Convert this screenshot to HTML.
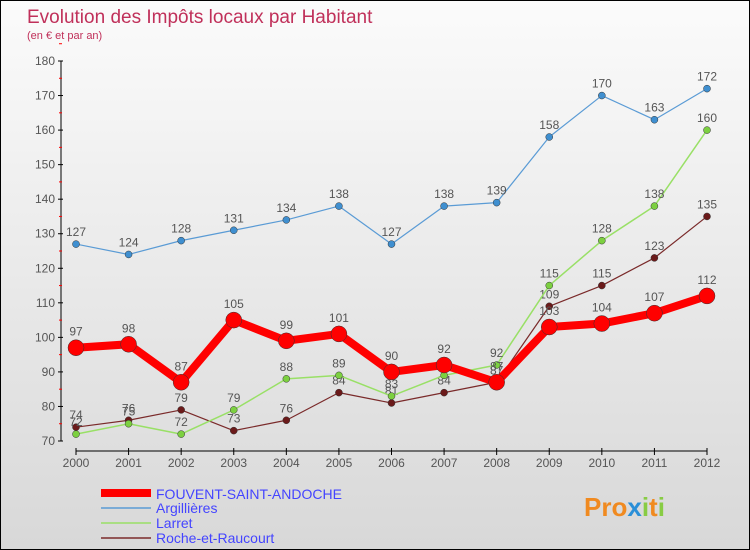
<!DOCTYPE html>
<html><head><meta charset="utf-8"><style>
body{margin:0}
#c{width:748px;height:548px;border:1px solid #000;background:linear-gradient(#fbfbfb,#d8d8d8);position:relative;font-family:"Liberation Sans",sans-serif;overflow:hidden}
svg text{font-family:"Liberation Sans",sans-serif}
</style></head><body>
<div id="c">
<svg id="s" width="748" height="548">
<text x="26" y="22" font-size="19" fill="#c0305a">Evolution des Impôts locaux par Habitant</text>
<text x="26" y="38" font-size="11" fill="#c0305a">(en € et par an)</text>
<g id="ax"></g><g id="ser"></g>
<g>
<line x1="100" y1="492" x2="150" y2="492" stroke="#f00" stroke-width="8"/>
<text x="155" y="498" font-size="14" fill="#44f">FOUVENT-SAINT-ANDOCHE</text>
<line x1="100" y1="507" x2="150" y2="507" stroke="#5a9bd5" stroke-width="1.5"/>
<text x="155" y="512" font-size="14" fill="#44f">Argillières</text>
<line x1="100" y1="522" x2="150" y2="522" stroke="#99e066" stroke-width="1.5"/>
<text x="155" y="527" font-size="14" fill="#44f">Larret</text>
<line x1="100" y1="537" x2="150" y2="537" stroke="#7a2a2a" stroke-width="1.5"/>
<text x="155" y="542" font-size="14" fill="#44f">Roche-et-Raucourt</text>
</g>
<text x="583" y="515" font-size="26" font-weight="bold" fill="#f08a20">Pro<tspan fill="#2a8fd8">x</tspan><tspan fill="#8c4">i</tspan>t<tspan fill="#8c4">i</tspan></text>
</svg></div>
<script>
const years=["2000","2001","2002","2003","2004","2005","2006","2007","2008","2009","2010","2011","2012"];
const yTicks=[70,80,90,100,110,120,130,140,150,160,170,180];
const fouvent=[97,98,87,105,99,101,90,92,87,103,104,107,112];
const argillieres=[127,124,128,131,134,138,127,138,139,158,170,163,172];
const larret=[72,75,72,79,88,89,83,89,92,115,128,138,160];
const roche=[74,76,79,73,76,84,81,84,87,109,115,123,135];
const NS="http://www.w3.org/2000/svg";
const X=i=>75+i*(706-75)/(years.length-1);
const Y=v=>440-(v-70)*380/110;
function mk(t,a,p){const e=document.createElementNS(NS,t);for(const k in a)e.setAttribute(k,a[k]);p.appendChild(e);return e;}
const ax=document.getElementById('ax');
let l=mk('line',{x1:60,y1:60,x2:60,y2:440,stroke:'#000'},ax);


yTicks.forEach(v=>{mk('line',{x1:57,x2:62,y1:Y(v),y2:Y(v),stroke:'#000'},ax);
 mk('line',{x1:58,x2:61,y1:Y(v+5),y2:Y(v+5),stroke:'#f00'},ax);
 const t=mk('text',{x:54,y:Y(v)+4,'font-size':12,fill:'#555','text-anchor':'end'},ax);t.textContent=v;
 
 });
l=mk('line',{x1:75,y1:450,x2:706,y2:450,stroke:'#000'},ax);


years.forEach((y,i)=>{mk('line',{x1:X(i),x2:X(i),y1:447,y2:454,stroke:'#000'},ax);
 const t=mk('text',{x:X(i),y:466,'font-size':12,fill:'#555','text-anchor':'middle'},ax);t.textContent=y;
 
 });
const ser=document.getElementById('ser');
function draw(d,c,w,r,name,dot){
 const g=mk('g',{},ser);
 
 
 const p=mk('polyline',{points:d.map((v,i)=>X(i)+','+Y(v)).join(' '),fill:'none',stroke:c,'stroke-width':w,'stroke-linejoin':'round'},g);
 
 
 d.forEach((v,i)=>{const ci=mk('circle',{cx:X(i),cy:Y(v),r:r,fill:dot,stroke:'#333','stroke-width':0.5},g);
  
  
  const t=mk('text',{x:X(i),y:Y(v)-8-(r>5?4:0),'font-size':12,fill:'#555','text-anchor':'middle'},g);t.textContent=v;
  
  });
}
draw(roche,'#7a2a2a',1.2,3.5,'roche','#6b1a1a');
draw(larret,'#99e066',1.5,3.5,'larret','#7cd040');
draw(argillieres,'#5a9bd5',1.2,3.5,'argillieres','#3f8fd0');
draw(fouvent,'#f00',8,8,'fouvent','#f00');
</script>
</body></html>
